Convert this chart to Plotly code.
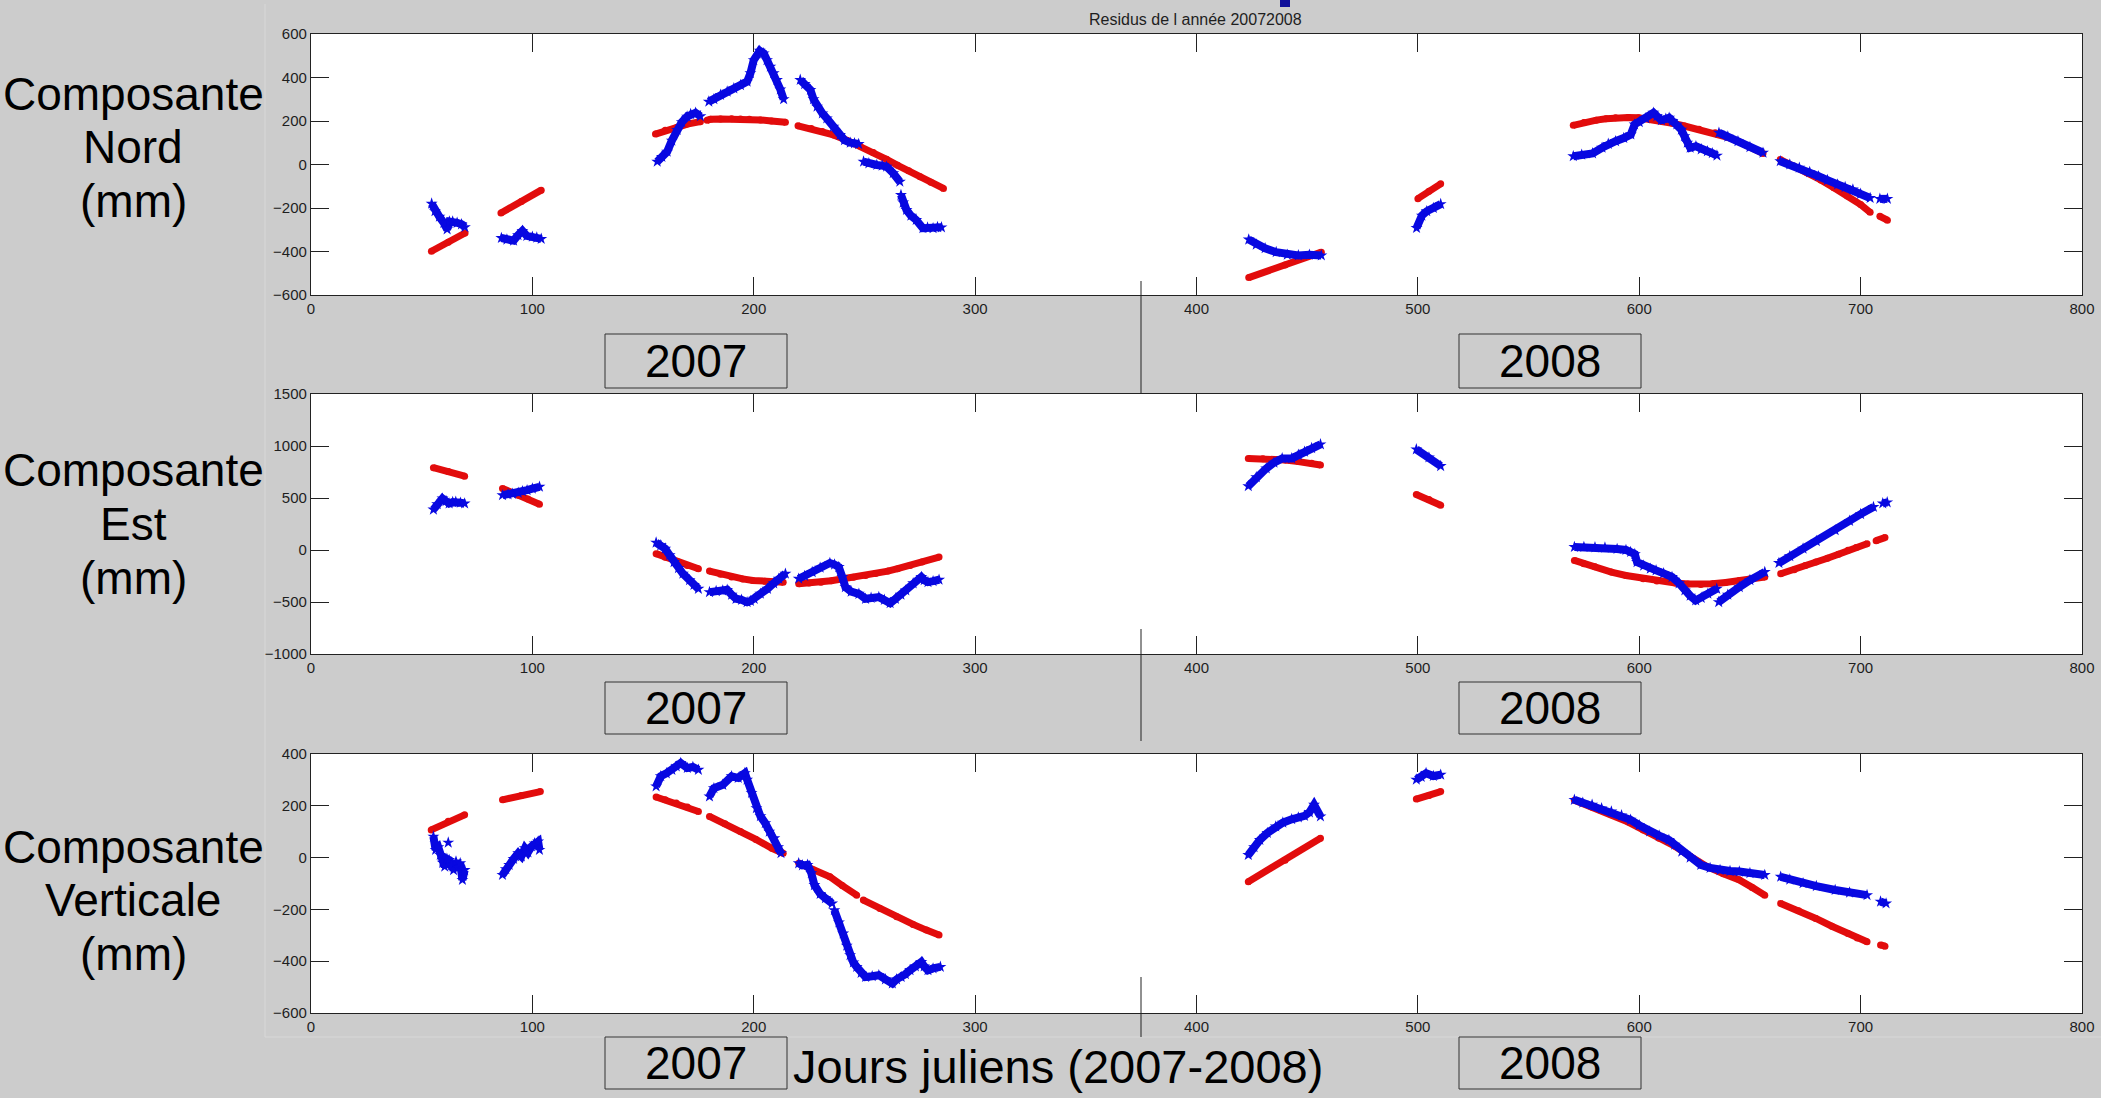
import plotly.graph_objects as go

# ---------------- data (Julian days 2007-2008, residuals in mm) ----------------
N = None
# Composante Nord
nord_obs_x = [54.5, 56, 58, 60, 61.5, 62.5, 64, 66, 68, 69.5, N,
              86, 88.5, 91.5, 93.5, 95.5, 97.5, 100, 102, 104, N,
              156.4, 158.5, 160.9, 163, 165.4, 167.5, 169.9, 171.5, 173.7, 175.9, N,
              179.7, 182, 185, 188, 191, 194, 197, 198.5, 200, 202.7, 204.5, 206, 207.5, 209, 210.5, 212, 213.5, N,
              221, 223, 225.6, 227, 228.6, 231, 233, 236, 239, 241, 243.6, 245.5, 247.4, N,
              249.6, 252, 255.6, 258, 260, 263, 266, N,
              266.5, 267.5, 269, 271, 273.4, 276.4, 278.5, 281, 283, 284.8, N,
              423.6, 427, 431, 436, 441, 446, 451, 456.4, N,
              499.4, 501.8, 504, 507, 510.3, N,
              570.2, 574, 578.9, 583.2, 586, 589.3, 593, 596.2, 597.9, 600, 603, 606.4, 608, 610, 612, 613.5,
              615, 617, 619, 620.4, 621.7, 623, 625.6, 628, 630.8, 633, 635.1, N,
              636, 640, 644.6, 650, 655.9, N,
              663.7, 668, 672.3, 677, 681, 685, 689.6, 693, 696.5, 700, 704.3, N,
              708.7, 712.1]
nord_obs_y = [-180, -215, -240, -268, -298, -262, -262, -268, -275, -288, N,
              -338, -345, -350, -325, -305, -328, -332, -336, -342, N,
              13, 35, 59, 110, 159, 195, 220, 232, 238, 222, N,
              289, 300, 320, 335, 350, 365, 381, 420, 480, 523, 511, 480, 450, 420, 389, 345, 300, N,
              389, 370, 343, 300, 266, 235, 212, 174, 136, 112, 100, 97, 94, N,
              13, 5, -2, -5, -10, -40, -79, N,
              -140, -175, -209, -235, -255, -293, -290, -293, -288, -289, N,
              -345, -368, -385, -403, -415, -418, -415, -418, N,
              -292, -235, -215, -200, -182, N,
              38, 45, 51, 77, 95, 107, 122, 138, 184, 195, 212, 238, 222, 204, 210, 215,
              200, 184, 160, 130, 100, 77, 84, 70, 61, 52, 41, N,
              146, 128, 107, 80, 54, N,
              15, 0, -15, -35, -54, -72, -92, -104, -115, -135, -154, N,
              -158, -158]
nord_mod_x = [54.4, 62, 69.6, N,
              85.8, 95, 104, N,
              155.6, 160, 165.4, 170, 175.9, N,
              178.9, 180.5, 185, 190, 194, 198, 203, 208, 214.3, N,
              220, 226, 231, 236, 242, 248, 254, 260, 265, 270, 275.2, 280, 285.7, N,
              423.6, 440, 456.4, N,
              500, 505, 510.3, N,
              570.2, 575, 580.6, 585, 589.3, 595, 599.7, 605, 610, 615, 620.4, 627, 634.3, 640, 644.6, 650, 655.9, N,
              663.7, 670, 675.8, 682, 687.9, 694, 700, 704.3, N,
              708.7, 712.1]
nord_mod_y = [-399, -357, -315, N,
              -223, -170, -118, N,
              140, 157, 171, 186, 197, N,
              203, 208, 209, 210, 209, 208, 205, 200, 194, N,
              178, 165, 152, 136, 112, 85, 55, 24, -4, -29, -56, -82, -110, N,
              -520, -462, -403, N,
              -157, -123, -89, N,
              180, 193, 204, 210, 215, 216, 215, 209, 200, 190, 177, 162, 146, 125, 107, 82, 51, N,
              23, -8, -38, -71, -107, -145, -184, -220, N,
              -238, -256]

# Composante Est
est_obs_x = [55.3, 57, 59.4, 61, 62.4, 64, 65.4, 67.5, 69.4, N,
             86.5, 89, 91, 93.6, 95.5, 97.6, 100, 103.2, N,
             155.9, 158, 160, 162, 164, 166, 168, 171, 173, 175, N,
             180, 183, 186, 188, 190, 192, 194.5, 197, 198.5, 200.2, 203, 206.2, 209, 211.3, 214.3, N,
             220.3, 223, 226.4, 230, 234.4, 236.5, 238.4, 240, 241.4, 244, 247.5, 250.5, 253, 256.5, 259,
             261.6, 264, 266.5, 268.7, 272, 275.7, 277, 278.7, 281, 283.7, N,
             423.4, 427, 431.5, 435, 438.7, 443, 446, 448.8, 452, 456, N,
             499.3, 505, 510.3, N,
             570.7, 575, 580, 584.5, 590, 594, 596.1, 598, 599, 602, 605, 607.6, 611, 614.8, 618, 620.6,
             623, 625.5, 628, 631, 635, N,
             635.9, 640, 645.2, 650, 656.7, N,
             663.1, 668, 674, 680, 688.5, 695, 700, 705.8, N,
             710, 712]
est_obs_y = [389, 440, 495, 470, 447, 460, 463, 455, 447, N,
             527, 535, 540, 550, 565, 575, 590, 608, N,
             71, 45, 13, -50, -116, -175, -228, -290, -335, -373, N,
             -405, -395, -390, -383, -430, -469, -480, -502, -490, -469, -420, -373, -320, -276, -228, N,
             -276, -250, -212, -170, -125, -140, -164, -260, -357, -400, -421, -469, -460, -453, -480,
             -511, -470, -430, -389, -320, -260, -290, -309, -300, -286, N,
             614, 700, 784, 840, 881, 881, 915, 945, 980, 1016, N,
             968, 890, 807, N,
             29, 29, 25, 23, 10, 0, -19, -40, -116, -150, -180, -196, -225, -260, -320, -389,
             -440, -485, -460, -420, -373, N,
             -501, -430, -357, -290, -212, N,
             -125, -60, 13, 85, 190, 280, 345, 414, N,
             448, 458]
est_mod_x = [55.3, 62, 69.4, N,
             86.5, 93.6, 98, 103.2, N,
             155.9, 160, 166, 170, 175, N,
             180, 185, 190, 195, 199.6, 205, 209, 213.3, N,
             220.3, 225, 230.4, 235, 240.4, 245, 250.5, 255, 260.6, 265, 270.6, 276, 283.7, N,
             423.4, 430, 436, 440.1, 446, 452, 456, N,
             499.3, 505, 510.3, N,
             570.7, 575, 580, 587.4, 594, 601.8, 608, 616.3, 622, 627.8, 633, 639, 645.2, 650, 656.7, N,
             663.9, 670, 675, 679.8, 685, 690, 694.3, 698, 702.9, N,
             707, 711]
est_mod_y = [791, 755, 710, N,
             592, 527, 490, 440, N,
             -35, -70, -116, -150, -180, N,
             -203, -232, -260, -278, -293, -301, -306, -309, N,
             -325, -318, -309, -295, -276, -262, -244, -225, -203, -180, -148, -115, -68, N,
             881, 878, 870, 865, 850, 835, 817, N,
             534, 485, 431, N,
             -100, -132, -160, -212, -245, -276, -298, -318, -327, -331, -325, -312, -293, -280, -260, N,
             -228, -190, -150, -116, -80, -40, -3, 25, 61, N,
             90, 119]

# Composante Verticale
vert_obs_x = [55.3, 56.3, 57.5, 58.4, 59.5, 60.4, 61.4, 62.4, 63.5, 64.4, 65.5, 66.5, 67.4, 68.4, 69.4, N,
              62, N,
              86.5, 88, 89.5, 91.5, 93.6, 95, 96.6, 98, 99.6, 101, 102.6, 103.2, N,
              155.9, 158, 160.5, 163, 165, 167, 170, 172.5, 175, N,
              180, 182, 186, 190, 193, 196, 197, 199, 201.2, 203, 205.2, 207, 209.3, 211, 212.3, N,
              220.3, 222, 224.3, 226, 227.4, 230, 232.4, 235.4, N,
              236.4, 238.5, 240.4, 242, 243.5, 245, 246.5, 248.5, 250.5, 253.5, 256.5, 259.5, 262.6, 264.5,
              266.6, 268.5, 270.6, 273, 275.7, 277, 278.7, 281, 284.3, N,
              423.4, 426, 428.6, 432, 435.8, 439, 443, 446, 448.8, 451, 453.1, 456, N,
              499.3, 501.5, 503.7, 507, 510.3, N,
              570.7, 574.5, 578.7, 583, 587.4, 592, 596.1, 600, 604.7, 609, 613.4, 616, 619.2, 623, 627.8,
              632, 636.5, 641, 645.2, 650, 656.7, N,
              663.9, 668, 674, 680, 688.5, 695, 702.9, N,
              709, 711.5]
vert_obs_y = [81, 30, 40, 10, -20, -35, -5, -9, -30, -48, -15, -40, -22, -86, -48, N,
              58, N,
              -67, -45, -28, -5, 17, 5, 36, 20, 43, 55, 62, 30, N,
              275, 314, 325, 339, 352, 365, 346, 350, 339, N,
              236, 268, 281, 314, 308, 326, 301, 250, 191, 160, 133, 100, 75, 40, 17, N,
              -22, -30, -28, -60, -106, -140, -157, -177, N,
              -203, -250, -293, -340, -377, -405, -422, -445, -461, -458, -454, -470, -486, -470,
              -461, -450, -435, -420, -403, -420, -435, -428, -422, N,
              10, 40, 68, 95, 120, 135, 148, 155, 161, 175, 204, 159, N,
              301, 312, 326, 315, 320, N,
              223, 212, 204, 190, 178, 163, 146, 125, 101, 85, 68, 50, 23, 0, -28,
              -40, -48, -52, -54, -60, -67, N,
              -74, -85, -99, -110, -125, -135, -145, N,
              -170, -177]
vert_mod_x = [54.3, 62, 69.4, N,
              86.5, 95, 103.6, N,
              155.9, 160, 165, 170, 175, N,
              180, 187, 194, 201, 208.2, 213.3, N,
              220.3, 227, 234.4, 240, 246.5, N,
              249.5, 257, 264.6, 272, 278, 283.7, N,
              423.4, 440, 456, N,
              499.3, 505, 510.3, N,
              570.7, 579, 587.4, 595, 601.8, 609, 616.3, 623, 630.7, 638, 645.2, 651, 656.7, N,
              663.9, 672, 679.8, 687, 694.3, 698.5, 702.9, N,
              709, 711]
vert_mod_y = [107, 140, 165, N,
              223, 240, 255, N,
              234, 223, 211, 195, 178, N,
              159, 131, 101, 70, 36, 17, N,
              -22, -48, -74, -108, -145, N,
              -164, -197, -228, -258, -280, -299, N,
              -93, -10, 75, N,
              226, 240, 255, N,
              221, 193, 165, 137, 107, 75, 43, 5, -35, -62, -86, -115, -145, N,
              -177, -205, -235, -265, -293, -310, -325, N,
              -337, -342]

panel_names = [["Composante", "Nord", "(mm)"],
               ["Composante", "Est", "(mm)"],
               ["Composante", "Verticale", "(mm)"]]
y_ranges = [[-600, 600], [-1000, 1500], [-600, 400]]
y_dticks = [200, 500, 200]
year_labels = ["2007", "2008"]
title_text = "Residus de l année 20072008"
xlabel_text = "Jours juliens (2007-2008)"

# ---------------- layout geometry (pixels) ----------------
W, H = 2101, 1098
PL, PR, PT, PB = 311, 2082, 34, 1013
panel_px = [(34, 295), (394, 654), (754, 1013)]


def fx(x):
    return (x - PL) / (PR - PL)


def fy(y):
    return (PB - y) / (PB - PT)


BLUE = "rgb(8,8,225)"
RED = "rgb(226,12,12)"
FONT = "Liberation Sans, Arial, sans-serif"
TXT = "#1e1e1e"

fig = go.Figure()

series = [(nord_obs_x, nord_obs_y, nord_mod_x, nord_mod_y),
          (est_obs_x, est_obs_y, est_mod_x, est_mod_y),
          (vert_obs_x, vert_obs_y, vert_mod_x, vert_mod_y)]

for i, (ox, oy, mx, my) in enumerate(series):
    xa = "x" if i == 0 else f"x{i+1}"
    ya = "y" if i == 0 else f"y{i+1}"
    fig.add_trace(go.Scatter(x=mx, y=my, mode="lines+markers", xaxis=xa, yaxis=ya,
                             line=dict(color=RED, width=7), marker=dict(color=RED, size=7),
                             connectgaps=False, showlegend=False, hoverinfo="skip"))
    fig.add_trace(go.Scatter(x=ox, y=oy, mode="lines+markers", xaxis=xa, yaxis=ya,
                             line=dict(color=BLUE, width=8), marker=dict(color=BLUE, size=9, symbol="star"),
                             connectgaps=False, showlegend=False, hoverinfo="skip"))

axis_common = dict(ticks="inside", ticklen=18, tickwidth=1, tickcolor="#222",
                   showline=True, linecolor="#222", linewidth=1.3, mirror="ticks",
                   showgrid=False, zeroline=False,
                   tickfont=dict(family=FONT, size=15, color=TXT))

layout = dict(width=W, height=H, paper_bgcolor="#cccccc", plot_bgcolor="white",
              margin=dict(l=PL, r=W - PR, t=PT, b=H - PB, autoexpand=False),
              showlegend=False)

for i, (top, bot) in enumerate(panel_px):
    xk = "xaxis" if i == 0 else f"xaxis{i+1}"
    yk = "yaxis" if i == 0 else f"yaxis{i+1}"
    xa = "x" if i == 0 else f"x{i+1}"
    ya = "y" if i == 0 else f"y{i+1}"
    layout[xk] = dict(axis_common, domain=[0, 1], range=[0, 800], tick0=0, dtick=100, anchor=ya)
    lo, hi = y_ranges[i]
    layout[yk] = dict(axis_common, domain=[fy(bot), fy(top)], range=[lo, hi],
                      tick0=lo, dtick=y_dticks[i], anchor=xa)

fig.update_layout(**layout)

annotations = []
shapes = []

# title
annotations.append(dict(x=fx(1195), y=fy(19), xref="paper", yref="paper", text=title_text,
                        showarrow=False, xanchor="center", yanchor="middle",
                        font=dict(family=FONT, size=16, color=TXT)))

# left panel labels
label_rows = [(94, 147, 201), (470, 524, 578), (847, 900, 954)]
for names, rows in zip(panel_names, label_rows):
    for t, yy in zip(names, rows):
        annotations.append(dict(x=fx(133), y=fy(yy), xref="paper", yref="paper", text=t,
                                showarrow=False, xanchor="center", yanchor="middle",
                                font=dict(family=FONT, size=46, color="black")))

# year boxes
box_rows = [(334, 388), (682, 734), (1037, 1089)]
box_cols = [(605, 787), (1459, 1641)]
for (b0, b1) in box_rows:
    for lab, (a0, a1) in zip(year_labels, box_cols):
        shapes.append(dict(type="rect", xref="paper", yref="paper",
                           x0=fx(a0), x1=fx(a1), y0=fy(b1), y1=fy(b0),
                           line=dict(color="#333", width=1), fillcolor="rgba(0,0,0,0)", layer="above"))
        annotations.append(dict(x=fx((a0 + a1) / 2), y=fy((b0 + b1) / 2), xref="paper", yref="paper",
                                text=lab, showarrow=False, xanchor="center", yanchor="middle",
                                font=dict(family=FONT, size=46, color="black")))

# x-axis label
annotations.append(dict(x=fx(1058), y=fy(1066), xref="paper", yref="paper", text=xlabel_text,
                        showarrow=False, xanchor="center", yanchor="middle",
                        font=dict(family=FONT, size=47, color="black")))

# year separator segments
for (s0, s1) in [(281, 393), (629, 741), (977, 1037)]:
    shapes.append(dict(type="line", xref="paper", yref="paper", x0=fx(1141), x1=fx(1141),
                       y0=fy(s1), y1=fy(s0), line=dict(color="#222", width=1), layer="above"))

# faint window borders
shapes.append(dict(type="line", xref="paper", yref="paper", x0=fx(265), x1=fx(265),
                   y0=fy(1037), y1=fy(4), line=dict(color="#d8d8d8", width=1), layer="below"))
shapes.append(dict(type="line", xref="paper", yref="paper", x0=fx(265), x1=fx(W),
                   y0=fy(1037), y1=fy(1037), line=dict(color="#d8d8d8", width=1), layer="below"))
# fragment of cut-off blue heading at the very top
shapes.append(dict(type="rect", xref="paper", yref="paper", x0=fx(1280), x1=fx(1290),
                   y0=fy(7), y1=fy(0), line=dict(width=0), fillcolor="#10109a", layer="above"))

fig.update_layout(annotations=annotations, shapes=shapes)

fig.write_html("out.html")
